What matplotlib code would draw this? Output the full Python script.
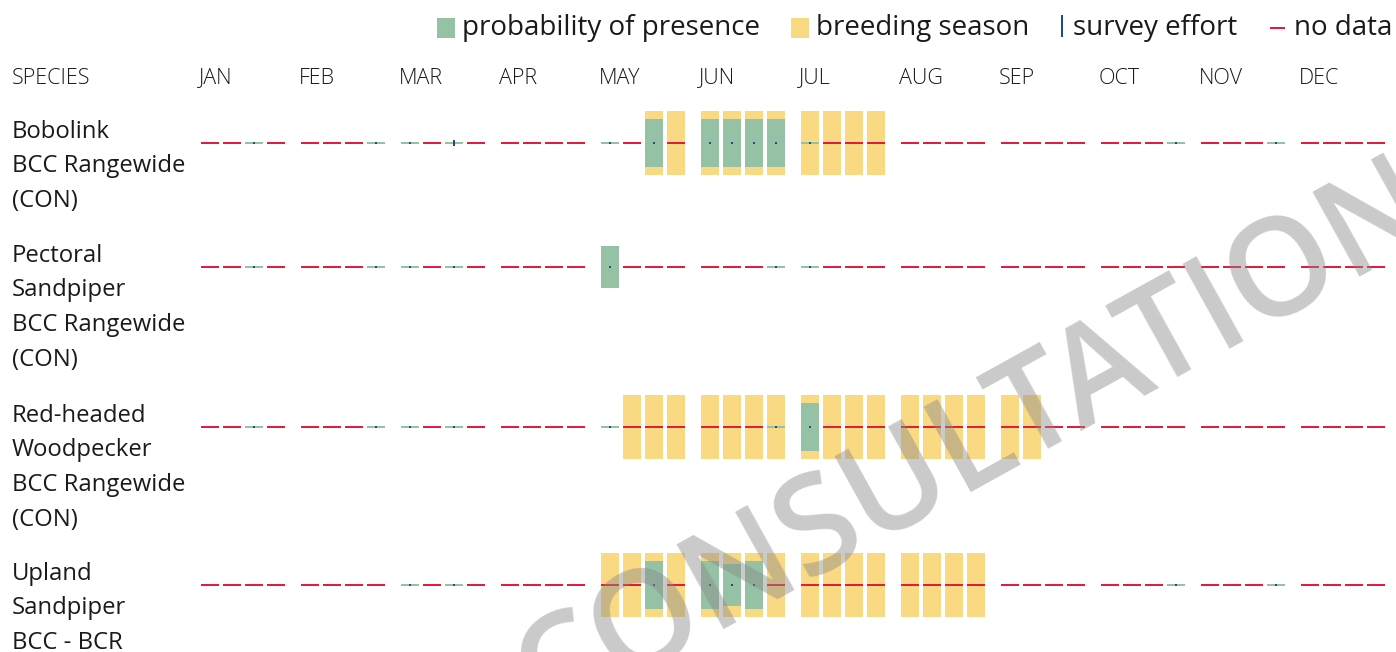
import matplotlib
matplotlib.use('Agg')
import matplotlib.pyplot as plt

# ---------------- data ----------------
months = ['JAN', 'FEB', 'MAR', 'APR', 'MAY', 'JUN', 'JUL', 'AUG', 'SEP', 'OCT', 'NOV', 'DEC']
species = [
    ['Bobolink', 'BCC Rangewide', '(CON)'],
    ['Pectoral', 'Sandpiper', 'BCC Rangewide', '(CON)'],
    ['Red-headed', 'Woodpecker', 'BCC Rangewide', '(CON)'],
    ['Upland', 'Sandpiper', 'BCC - BCR'],
]
N = None  # no data
# probability of presence per week (4 weeks per month), 0 = surveyed, not detected
bobolink = [N, N, 0, N,  N, N, N, 0,  0, N, 0, N,  N, N, N, N,
            0, N, 7.5, N,  7.5, 7.5, 7.5, 7.5,  0, N, N, N,  N, N, N, N,
            N, N, N, N,  N, N, N, 0,  N, N, N, 0,  N, N, N, N]
pectoral = [N, N, 0, N,  N, N, N, 0,  0, N, 0, N,  N, N, N, N,
            6.6, N, N, N,  N, N, N, 0,  0, N, N, N,  N, N, N, N,
            N, N, N, N,  N, N, N, N,  N, N, N, N,  N, N, N, N]
woodpecker = [N, N, 0, N,  N, N, N, 0,  0, N, 0, N,  N, N, N, N,
              0, N, N, N,  N, N, N, 0,  7.5, N, N, N,  N, N, N, N,
              N, N, N, N,  N, N, N, N,  N, N, N, N,  N, N, N, N]
upland = [N, N, N, N,  N, N, N, N,  0, N, 0, N,  N, N, N, N,
          N, N, 7.5, N,  7.5, 6.6, 7.5, N,  N, N, N, N,  N, N, N, N,
          N, N, N, N,  N, N, N, 0,  N, N, N, 0,  N, N, N, N]
# survey effort per week (relative tick height)
effort_bobolink = [0, 0, 1, 0,  0, 0, 0, 1,  1, 0, 3, 0,  0, 0, 0, 0,
                   1, 0, 1, 0,  1, 1, 1, 1,  1, 0, 0, 0,  0, 0, 0, 0,
                   0, 0, 0, 0,  0, 0, 0, 1,  0, 0, 0, 1,  0, 0, 0, 0]
effort_pectoral = [0, 0, 1, 0,  0, 0, 0, 1,  1, 0, 1, 0,  0, 0, 0, 0,
                   1, 0, 0, 0,  0, 0, 0, 1,  1, 0, 0, 0,  0, 0, 0, 0,
                   0, 0, 0, 0,  0, 0, 0, 0,  0, 0, 0, 0,  0, 0, 0, 0]
effort_woodpecker = [0, 0, 1, 0,  0, 0, 0, 1,  1, 0, 1, 0,  0, 0, 0, 0,
                     1, 0, 0, 0,  0, 0, 0, 1,  1, 0, 0, 0,  0, 0, 0, 0,
                     0, 0, 0, 0,  0, 0, 0, 0,  0, 0, 0, 0,  0, 0, 0, 0]
effort_upland = [0, 0, 0, 0,  0, 0, 0, 0,  1, 0, 1, 0,  0, 0, 0, 0,
                 0, 0, 1, 0,  1, 1, 1, 0,  0, 0, 0, 0,  0, 0, 0, 0,
                 0, 0, 0, 0,  0, 0, 0, 1,  0, 0, 0, 1,  0, 0, 0, 0]
# breeding season (first week index, last week index), None = no breeding
breeding = [(18, 27), None, (17, 33), (16, 31)]

presence = [bobolink, pectoral, woodpecker, upland]
efforts = [effort_bobolink, effort_pectoral, effort_woodpecker, effort_upland]

# ---------------- style / layout ----------------
GREEN = '#95C1A4'
YELLOW = '#FAD983'
RED = '#E31B3C'
BLUE = '#1D4E89'
TXT = '#1a1a1a'
FONT = 'Open Sans'

W, H = 1396, 652
X0, MONTH_W, WEEK_W, CELL_W = 201, 100, 22, 18
ROW_Y = [143, 267, 427, 585]
BAR_H = 64
PX_PER_UNIT = 6.4
LINE_H = 2

fig = plt.figure(figsize=(W / 100, H / 100), dpi=100)
ax = fig.add_axes([0, 0, 1, 1])
ax.set_xlim(0, W)
ax.set_ylim(H, 0)
ax.axis('off')

# header
ax.text(12, 78, 'SPECIES', va='center', ha='left', fontsize=15.5, family=FONT,
        color=TXT, fontweight='light')
for m, name in enumerate(months):
    ax.text(X0 + m * MONTH_W - 2, 78, name, va='center', ha='left', fontsize=15.5,
            family=FONT, color=TXT, fontweight='light')

# rows
for r in range(len(species)):
    yc = ROW_Y[r]
    pres = presence[r]
    eff = efforts[r]
    br = breeding[r]
    for i in range(48):
        x = X0 + (i // 4) * MONTH_W + (i % 4) * WEEK_W
        if br is not None and br[0] <= i <= br[1]:
            ax.bar(x, BAR_H, CELL_W, bottom=yc - BAR_H / 2, align='edge',
                   color=YELLOW, lw=0, zorder=1)
        p = pres[i]
        if p is None:
            ax.bar(x, LINE_H, CELL_W, bottom=yc - LINE_H / 2, align='edge',
                   color=RED, lw=0, zorder=2)
        elif p == 0:
            ax.bar(x, LINE_H, CELL_W, bottom=yc - LINE_H / 2, align='edge',
                   color=GREEN, lw=0, zorder=2)
        else:
            h = p * PX_PER_UNIT
            ax.bar(x, h, CELL_W, bottom=yc - h / 2, align='edge',
                   color=GREEN, lw=0, zorder=2)
        if eff[i]:
            eh = 2 * eff[i]
            ax.bar(x + CELL_W / 2, eh, 2, bottom=yc - eh / 2, align='center',
                   color=BLUE, lw=0, zorder=3)
    # species label
    for k, line in enumerate(species[r]):
        ax.text(12, yc - 11 + k * 34.5, line, va='center', ha='left',
                fontsize=17.2, family=FONT, color=TXT)

# legend
LY = 28
ax.bar(437, 20, 18, bottom=LY - 10, align='edge', color=GREEN, lw=0)
ax.text(462, LY, 'probability of presence', va='center', ha='left', fontsize=20,
        family=FONT, color=TXT)
ax.bar(791, 20, 18, bottom=LY - 10, align='edge', color=YELLOW, lw=0)
ax.text(816, LY, 'breeding season', va='center', ha='left', fontsize=20,
        family=FONT, color=TXT)
ax.bar(1062, 22, 2, bottom=LY - 13, align='center', color=BLUE, lw=0)
ax.text(1073, LY, 'survey effort', va='center', ha='left', fontsize=20,
        family=FONT, color=TXT)
ax.bar(1270, 2, 15, bottom=LY - 1, align='edge', color=RED, lw=0)
ax.text(1294, LY, 'no data', va='center', ha='left', fontsize=20,
        family=FONT, color=TXT)

# watermark
ax.text(1425, 200, 'NOT FOR CONSULTATION', rotation=29, rotation_mode='anchor',
        ha='right', va='center', fontsize=98, family=FONT, fontweight='semibold',
        color='#8a8a8a', alpha=0.45, zorder=10)

fig.savefig('out.png', dpi=100)
